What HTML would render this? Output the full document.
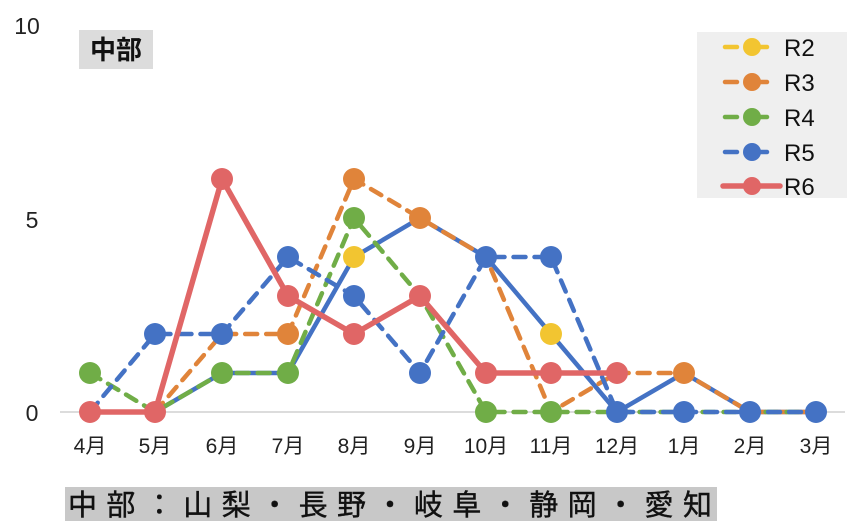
<!DOCTYPE html>
<html><head><meta charset="utf-8"><style>
body{margin:0;background:#fff;}
svg{display:block;font-family:"Liberation Sans","Noto Sans CJK JP",sans-serif;}
</style></head><body>
<svg width="850" height="528" viewBox="0 0 850 528">
<rect width="850" height="528" fill="#fff"/>
<line x1="60" y1="412" x2="845" y2="412" stroke="#d0d0d0" stroke-width="1.5"/>
<g font-size="23" fill="#222" text-anchor="middle">
<text x="27" y="34">10</text>
<text x="32" y="228">5</text>
<text x="32" y="421">0</text>
</g>
<rect x="79" y="30" width="74" height="39" fill="#dcdcdc"/>
<text x="116" y="59" font-size="26" font-weight="bold" text-anchor="middle" fill="#111">中部</text>

<g fill="none" stroke-width="4.5" stroke-linecap="round" stroke-linejoin="round">
<polyline stroke="#4472c4" points="155,412 222,373 288,373 354,257 420,218 486,257 551,334 617,412 684,373 750,412 816,412"/>
<polyline stroke="#e0843a" stroke-dasharray="12 9" points="155,412 222,334 288,334 354,179 420,218 486,257 551,412 617,373 684,373 750,412 816,412"/>
<polyline stroke="#70ad47" stroke-dasharray="12 9" points="90,373 155,412 222,373 288,373 354,218 420,296 486,412 551,412 617,412 684,412 750,412 816,412"/>
<polyline stroke="#4472c4" stroke-dasharray="12 9" points="90,412 155,334 222,334 288,257 354,296 420,373 486,257 551,257 617,412 684,412 750,412 816,412"/>
<polyline stroke="#e06666" stroke-width="5.5" points="90,412 155,412 222,179 288,296 354,334 420,296 486,373 551,373 617,373"/>
</g>
<g>
<g fill="#e0843a"><circle cx="288" cy="334" r="11"/><circle cx="354" cy="179" r="11"/><circle cx="420" cy="218" r="11"/><circle cx="684" cy="373" r="11"/></g>
<g fill="#70ad47"><circle cx="90" cy="373" r="11"/><circle cx="222" cy="373" r="11"/><circle cx="288" cy="373" r="11"/><circle cx="354" cy="218" r="11"/><circle cx="486" cy="412" r="11"/><circle cx="551" cy="412" r="11"/></g>
<g fill="#f2c531"><circle cx="354" cy="257" r="11"/><circle cx="551" cy="334" r="11"/></g>
<g fill="#4472c4"><circle cx="155" cy="334" r="11"/><circle cx="222" cy="334" r="11"/><circle cx="288" cy="257" r="11"/><circle cx="354" cy="296" r="11"/><circle cx="420" cy="373" r="11"/><circle cx="486" cy="257" r="11"/><circle cx="551" cy="257" r="11"/><circle cx="617" cy="412" r="11"/><circle cx="684" cy="412" r="11"/><circle cx="750" cy="412" r="11"/><circle cx="816" cy="412" r="11"/></g>
<g fill="#e06666"><circle cx="90" cy="412" r="11"/><circle cx="155" cy="412" r="11"/><circle cx="222" cy="179" r="11"/><circle cx="288" cy="296" r="11"/><circle cx="354" cy="334" r="11"/><circle cx="420" cy="296" r="11"/><circle cx="486" cy="373" r="11"/><circle cx="551" cy="373" r="11"/><circle cx="617" cy="373" r="11"/></g>
</g>

<g font-size="21" fill="#222" text-anchor="middle">
<text x="90" y="453">4月</text><text x="155" y="453">5月</text><text x="222" y="453">6月</text><text x="288" y="453">7月</text><text x="354" y="453">8月</text><text x="420" y="453">9月</text><text x="486" y="453">10月</text><text x="551" y="453">11月</text><text x="617" y="453">12月</text><text x="684" y="453">1月</text><text x="750" y="453">2月</text><text x="816" y="453">3月</text>
</g>

<rect x="697" y="32" width="150" height="166" fill="#efefef"/>
<g stroke-width="4.5" stroke-linecap="round">
<line x1="725" y1="47" x2="780" y2="47" stroke="#f2c531" stroke-dasharray="12 18"/>
<line x1="725" y1="82" x2="780" y2="82" stroke="#e0843a" stroke-dasharray="12 18"/>
<line x1="725" y1="117" x2="780" y2="117" stroke="#70ad47" stroke-dasharray="12 18"/>
<line x1="725" y1="152" x2="780" y2="152" stroke="#4472c4" stroke-dasharray="12 18"/>
<line x1="723" y1="186" x2="780" y2="186" stroke="#e06666" stroke-width="5.5"/>
</g>
<circle cx="752" cy="47" r="9" fill="#f2c531"/>
<circle cx="752" cy="82" r="9" fill="#e0843a"/>
<circle cx="752" cy="117" r="9" fill="#70ad47"/>
<circle cx="752" cy="152" r="9" fill="#4472c4"/>
<circle cx="752" cy="186" r="9" fill="#e06666"/>
<g font-size="24" fill="#111">
<text x="784" y="56">R2</text><text x="784" y="91">R3</text><text x="784" y="126">R4</text><text x="784" y="161">R5</text><text x="784" y="195">R6</text>
</g>

<rect x="65" y="487" width="652" height="34" fill="#c8c8c8"/>
<text x="68" y="515" font-size="29" fill="#111" stroke="#111" stroke-width="0.4" textLength="644" lengthAdjust="spacing">中部：山梨・長野・岐阜・静岡・愛知</text>
</svg>
</body></html>
